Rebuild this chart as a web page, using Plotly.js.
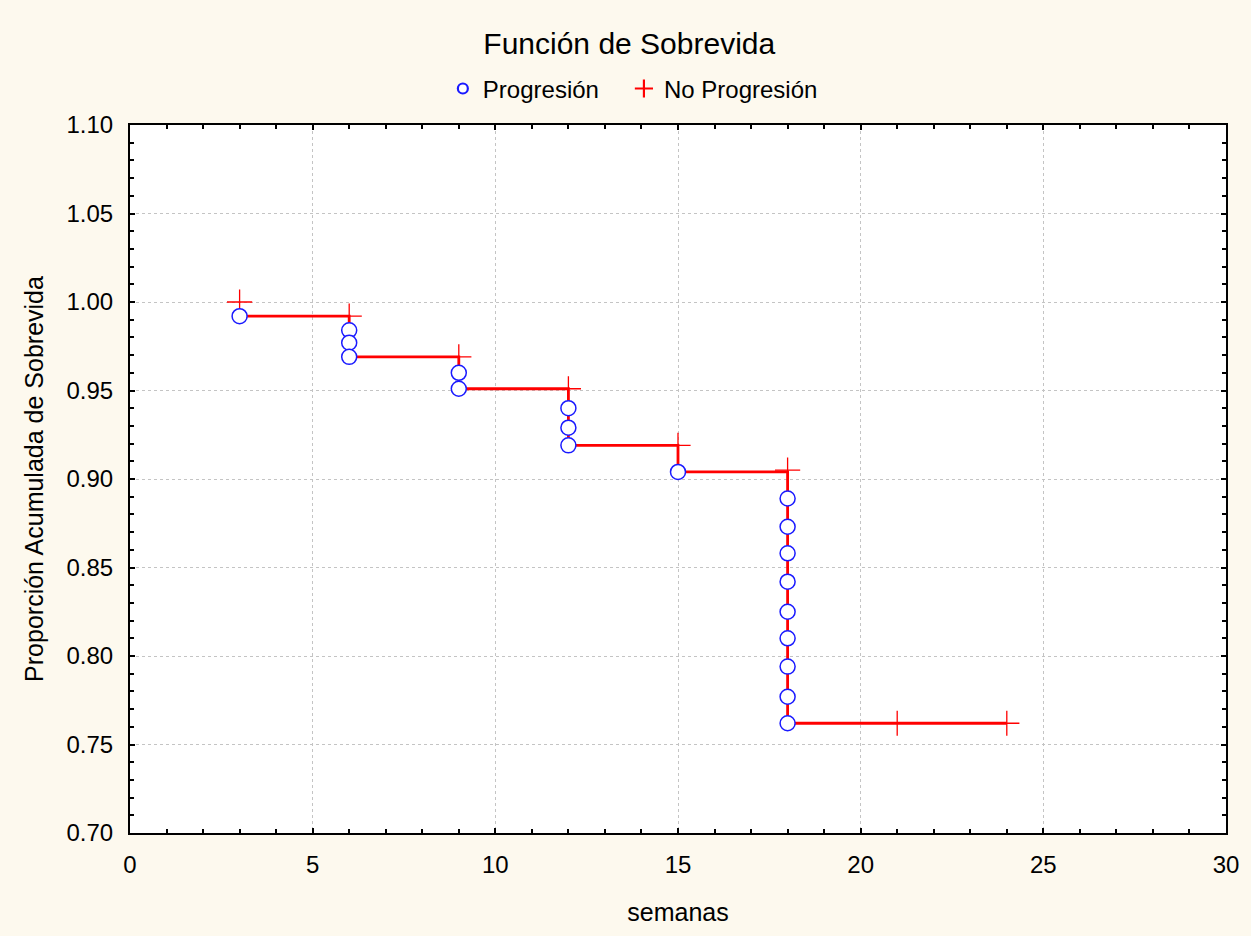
<!DOCTYPE html>
<html>
<head>
<meta charset="utf-8">
<script src="https://cdn.plot.ly/plotly-3.0.1.min.js"></script>
<style>html,body{margin:0;padding:0;background:#fdf9ee;}#chart{width:1251px;height:936px;}</style>
</head>
<body>
<div id="chart"></div>
<script>
// Progression events (observed failures)
const progX = [3, 6, 6, 6, 9, 9, 12, 12, 12, 15, 18, 18, 18, 18, 18, 18, 18, 18, 18];
const progY = [0.992, 0.984, 0.977, 0.969, 0.960, 0.951, 0.940, 0.929, 0.919, 0.904,
               0.889, 0.873, 0.858, 0.842, 0.825, 0.810, 0.794, 0.777, 0.762];
// Censored (no progression)
const censX = [3, 6, 9, 12, 15, 18, 21, 24];
const censY = [1.000, 0.992, 0.969, 0.951, 0.919, 0.905, 0.762, 0.762];
// Survival step curve
const stepX = [3, 6, 9, 12, 15, 18, 24];
const stepY = [0.992, 0.969, 0.951, 0.919, 0.904, 0.762, 0.762];
// Legend labels
const seriesNames = ['Progresión', 'No Progresión'];

const FONT = 'Liberation Sans, Arial, sans-serif';

const traces = [
  {x: stepX, y: stepY, mode: 'lines', line: {shape: 'hv', color: '#ff0000', width: 2.8},
   showlegend: false, hoverinfo: 'skip'},
  {x: censX, y: censY, mode: 'markers', showlegend: false,
   marker: {symbol: 'cross-thin', size: 18, line: {color: '#ff0000', width: 1.3}, color: '#ff0000'}},
  {x: progX, y: progY, mode: 'markers', showlegend: false,
   marker: {symbol: 'circle', size: 15, color: '#ffffff', line: {color: '#1a1aff', width: 1.5}}},
  // legend-only entries (smaller symbols as in the reference legend)
  {x: [null], y: [null], mode: 'markers', name: seriesNames[0] + '\u00a0\u00a0\u00a0', legendrank: 1,
   marker: {symbol: 'circle', size: 10, color: '#ffffff', line: {color: '#1a1aff', width: 2.2}}},
  {x: [null], y: [null], mode: 'markers', name: seriesNames[1], legendrank: 2,
   marker: {symbol: 'cross-thin', size: 13, color: '#ff0000', line: {color: '#ff0000', width: 2.2}}}
];

const axisCommon = {
  showline: true, linecolor: '#000', linewidth: 2, mirror: 'allticks',
  ticks: 'inside', ticklen: 5, tickwidth: 2, tickcolor: '#000',
  showgrid: true, gridcolor: '#c4c4c4', griddash: 'dot', gridwidth: 1,
  zeroline: false, tickfont: {family: FONT, size: 24, color: '#000'},
  fixedrange: true
};

const layout = {
  width: 1251, height: 936,
  paper_bgcolor: '#fdf9ee', plot_bgcolor: '#ffffff',
  margin: {l: 130, r: 25, t: 125, b: 103},
  title: {text: 'Función de Sobrevida', font: {family: FONT, size: 30, color: '#000'},
          xref: 'container', x: 0.503, xanchor: 'center', yref: 'container', y: 0.954, yanchor: 'middle'},
  showlegend: true,
  legend: {orientation: 'h', xref: 'container', x: 0.354, xanchor: 'left',
           yref: 'container', y: 0.905, yanchor: 'middle',
           font: {family: FONT, size: 24, color: '#000'}, bgcolor: 'rgba(0,0,0,0)',
           itemwidth: 30, tracegroupgap: 0},
  xaxis: Object.assign({}, axisCommon, {
    range: [0, 30], tickmode: 'linear', tick0: 0, dtick: 5,
    ticklabelstandoff: 9,
    minor: {ticks: 'inside', dtick: 1, ticklen: 4, tickwidth: 2, tickcolor: '#000', showgrid: false},
    title: {text: 'semanas', font: {family: FONT, size: 25, color: '#000'}, standoff: 27}
  }),
  yaxis: Object.assign({}, axisCommon, {
    range: [0.70, 1.10], tickmode: 'linear', tick0: 0.70, dtick: 0.05, tickformat: '.2f',
    ticklabelstandoff: 10,
    minor: {ticks: 'inside', dtick: 0.01, ticklen: 4, tickwidth: 2, tickcolor: '#000', showgrid: false},
    title: {text: 'Proporción Acumulada de Sobrevida', font: {family: FONT, size: 25, color: '#000'}, standoff: 16}
  })
};

Plotly.newPlot('chart', traces, layout, {displayModeBar: false, staticPlot: true});
</script>
</body>
</html>
